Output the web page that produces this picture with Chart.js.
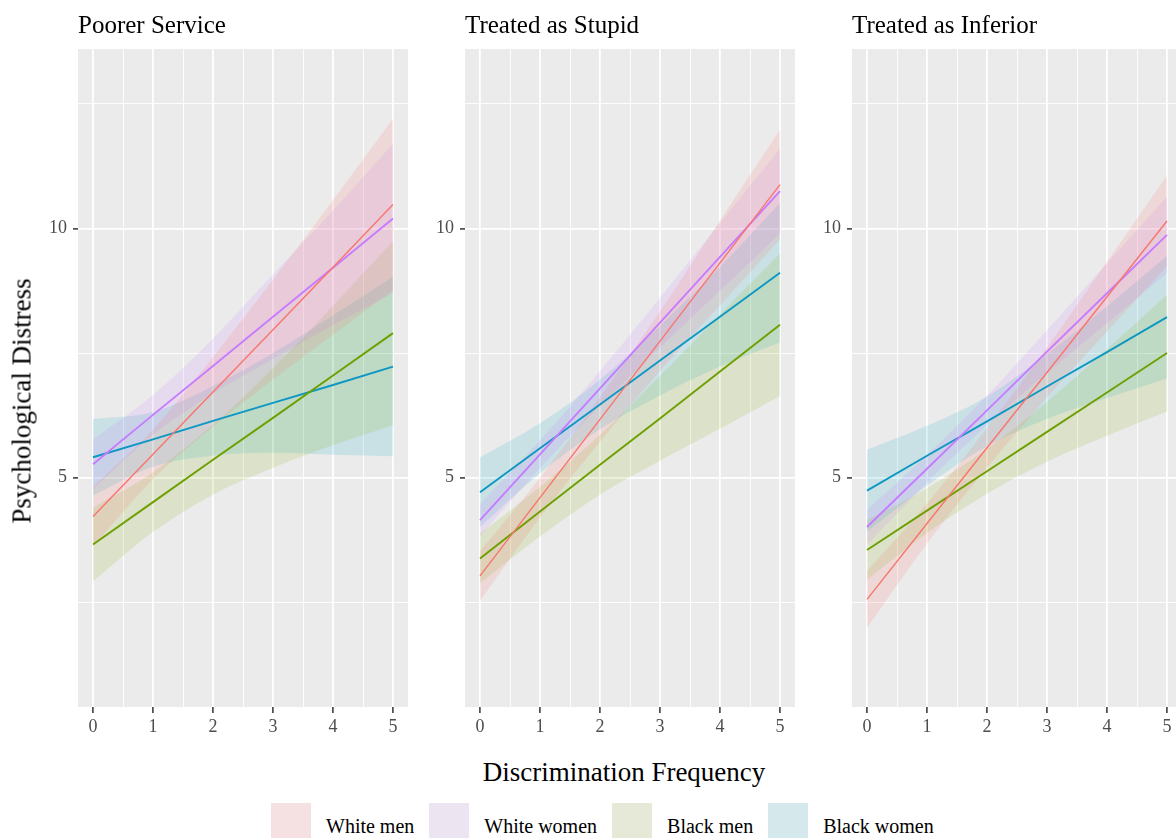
<!DOCTYPE html>
<html>
<head>
<meta charset="utf-8">
<script src="https://cdn.jsdelivr.net/npm/chart.js@4.4.1/dist/chart.umd.min.js"></script>
<style>
  body { margin: 0; width: 1176px; height: 838px; overflow: hidden; background: #fff; position: relative;
         font-family: 'Liberation Serif', 'Times New Roman', serif; color: #000; }
  .panel { position: absolute; top: 0; }
  #ylab { position: absolute; left: 22px; top: 401px; transform: translate(-50%, -50%) rotate(-90deg);
          font-size: 27px; white-space: nowrap; }
  #xlab { position: absolute; left: 624px; top: 759px; transform: translateX(-50%);
          font-size: 27px; line-height: 27px; white-space: nowrap; }
  #legend { position: absolute; left: 271px; top: 803px; display: flex; align-items: center; height: 40px; }
  #legend .key { width: 40px; height: 40px; margin-right: 15px; }
  #legend .lbl { font-size: 20px; margin-right: 15px; padding-top: 6px; white-space: nowrap; }
</style>
</head>
<body>
<canvas id="p1" class="panel" width="420" height="750" style="left:0px"></canvas>
<canvas id="p2" class="panel" width="387" height="750" style="left:420px"></canvas>
<canvas id="p3" class="panel" width="387" height="750" style="left:807px"></canvas>
<div id="ylab">Psychological Distress</div>
<div id="xlab">Discrimination Frequency</div>
<div id="legend"></div>

<script>
// groupes et couleurs
const groups = ['White men', 'White women', 'Black men', 'Black women'];
const lineColors = ['#F8766D', '#C77CFF', '#6E9F00', '#0D98C3'];
const lineWidths = [1.4, 1.9, 1.9, 1.9];
const ribbonColors = ['rgba(248,118,109,0.16)', 'rgba(199,124,255,0.15)', 'rgba(124,174,0,0.14)', 'rgba(0,170,196,0.14)'];
const keyColors = ['#F5E1E1', '#ECE4F0', '#E6E9D7', '#D5E8EC'];

const panelTitles = ['Poorer Service', 'Treated as Stupid', 'Treated as Inferior'];
const xs = [0, 1, 2, 3, 4, 5];
const xTicks = [0, 0.5, 1, 1.5, 2, 2.5, 3, 3.5, 4, 4.5, 5];
const yTicks = [2.5, 5, 7.5, 10, 12.5];

// Poorer Service (ordre: white men, white women, black men, black women)
const poorerFit = [
  [4.22, 5.47, 6.72, 7.97, 9.22, 10.48],
  [5.27, 6.26, 7.24, 8.23, 9.21, 10.20],
  [3.66, 4.51, 5.36, 6.20, 7.05, 7.90],
  [5.41, 5.77, 6.14, 6.50, 6.86, 7.23]
];
const poorerLower = [
  [3.62, 4.97, 6.02, 6.97, 7.87, 8.76],
  [4.77, 5.86, 6.69, 7.38, 8.06, 8.70],
  [2.92, 3.91, 4.66, 5.20, 5.65, 6.05],
  [4.64, 5.22, 5.44, 5.50, 5.46, 5.43]
];
const poorerUpper = [
  [4.82, 5.97, 7.42, 8.97, 10.57, 12.20],
  [5.77, 6.66, 7.79, 9.08, 10.36, 11.70],
  [4.40, 5.11, 6.06, 7.20, 8.45, 9.75],
  [6.18, 6.32, 6.84, 7.50, 8.26, 9.03]
];

// Treated as Stupid
const stupidFit = [
  [3.03, 4.60, 6.17, 7.74, 9.31, 10.88],
  [4.15, 5.47, 6.79, 8.11, 9.43, 10.75],
  [3.38, 4.32, 5.26, 6.19, 7.13, 8.07],
  [4.71, 5.59, 6.47, 7.35, 8.23, 9.11]
];
const stupidLower = [
  [2.53, 4.20, 5.72, 7.14, 8.46, 9.78],
  [3.83, 5.19, 6.44, 7.61, 8.75, 9.90],
  [2.88, 3.82, 4.66, 5.34, 5.98, 6.64],
  [4.01, 5.09, 5.97, 6.65, 7.23, 7.71]
];
const stupidUpper = [
  [3.53, 5.00, 6.62, 8.34, 10.16, 11.98],
  [4.47, 5.75, 7.14, 8.61, 10.11, 11.60],
  [3.88, 4.82, 5.86, 7.04, 8.28, 9.50],
  [5.41, 6.09, 6.97, 8.05, 9.23, 10.51]
];

// Treated as Inferior
const inferiorFit = [
  [2.56, 4.08, 5.60, 7.11, 8.63, 10.15],
  [4.01, 5.18, 6.35, 7.53, 8.70, 9.87],
  [3.55, 4.34, 5.13, 5.92, 6.71, 7.50],
  [4.74, 5.44, 6.13, 6.83, 7.52, 8.22]
];
const inferiorLower = [
  [1.99, 3.68, 5.20, 6.61, 7.93, 9.24],
  [3.66, 4.90, 6.05, 7.10, 8.10, 9.10],
  [2.95, 3.89, 4.68, 5.32, 5.84, 6.33],
  [3.92, 4.84, 5.63, 6.18, 6.60, 6.99]
];
const inferiorUpper = [
  [3.13, 4.48, 6.00, 7.61, 9.33, 11.06],
  [4.36, 5.46, 6.65, 7.96, 9.30, 10.64],
  [4.15, 4.79, 5.58, 6.52, 7.58, 8.67],
  [5.56, 6.04, 6.63, 7.48, 8.44, 9.45]
];

Chart.defaults.font.family = "'Liberation Serif', 'Times New Roman', serif";
Chart.defaults.animation = false;

// fond gris du panneau, comme ggplot
const panelBg = {
  id: 'panelBg',
  beforeDraw(chart) {
    const { ctx, chartArea: a } = chart;
    ctx.save();
    ctx.fillStyle = '#EBEBEB';
    ctx.fillRect(a.left, a.top, a.right - a.left, a.bottom - a.top);
    ctx.restore();
  }
};

const toXY = vals => vals.map((v, i) => ({ x: xs[i], y: v }));

function makePanel(id, title, fit, lower, upper, axisWidth) {
  const datasets = [];
  groups.forEach((g, i) => {
    datasets.push({ label: g + ' lo', data: toXY(lower[i]), borderWidth: 0, pointRadius: 0,
                    fill: false, order: 1, cubicInterpolationMode: 'monotone' });
    datasets.push({ label: g + ' hi', data: toXY(upper[i]), borderWidth: 0, pointRadius: 0,
                    fill: '-1', backgroundColor: ribbonColors[i], order: 1, cubicInterpolationMode: 'monotone' });
  });
  groups.forEach((g, i) => {
    datasets.push({ label: g, data: toXY(fit[i]), borderColor: lineColors[i], borderWidth: lineWidths[i],
                    pointRadius: 0, fill: false, order: 0 });
  });

  new Chart(document.getElementById(id), {
    type: 'line',
    data: { datasets },
    plugins: [panelBg],
    options: {
      responsive: false,
      layout: { padding: { right: 12 } },
      plugins: {
        legend: { display: false },
        tooltip: { enabled: false },
        title: {
          display: true, text: title, align: 'start', fullSize: false, color: '#000',
          font: { size: 25, weight: 'normal' }, padding: { top: 11, bottom: 8 }
        }
      },
      scales: {
        x: {
          type: 'linear', min: -0.25, max: 5.25,
          afterBuildTicks: s => { s.ticks = xTicks.map(v => ({ value: v })); },
          afterFit: s => { s.height = 43; },
          border: { display: false },
          grid: {
            color: '#FFFFFF',
            lineWidth: c => (c.tick && Number.isInteger(c.tick.value)) ? 1.8 : 0.9,
            tickColor: c => (c.tick && Number.isInteger(c.tick.value)) ? '#333333' : 'rgba(0,0,0,0)',
            tickLength: 6, tickWidth: 1.5
          },
          ticks: {
            autoSkip: false, maxRotation: 0, padding: 3, color: '#4D4D4D', font: { size: 18 },
            callback: v => Number.isInteger(v) ? String(v) : ''
          }
        },
        y: {
          min: 0.4, max: 13.6,
          afterBuildTicks: s => { s.ticks = yTicks.map(v => ({ value: v })); },
          afterFit: s => { s.width = axisWidth; },
          border: { display: false },
          grid: {
            color: '#FFFFFF',
            lineWidth: c => (c.tick && c.tick.value % 5 === 0) ? 1.8 : 0.9,
            tickColor: c => (c.tick && c.tick.value % 5 === 0) ? '#333333' : 'rgba(0,0,0,0)',
            tickLength: 5, tickWidth: 1.5
          },
          ticks: {
            autoSkip: false, padding: 6, color: '#4D4D4D', font: { size: 18 },
            callback: v => (v % 5 === 0) ? String(v) : ''
          }
        }
      }
    }
  });
}

makePanel('p1', panelTitles[0], poorerFit, poorerLower, poorerUpper, 78);
makePanel('p2', panelTitles[1], stupidFit, stupidLower, stupidUpper, 45);
makePanel('p3', panelTitles[2], inferiorFit, inferiorLower, inferiorUpper, 45);

// légende
const legend = document.getElementById('legend');
groups.forEach((g, i) => {
  const key = document.createElement('span');
  key.className = 'key';
  key.style.background = keyColors[i];
  const lbl = document.createElement('span');
  lbl.className = 'lbl';
  lbl.textContent = g;
  legend.appendChild(key);
  legend.appendChild(lbl);
});
</script>
</body>
</html>
